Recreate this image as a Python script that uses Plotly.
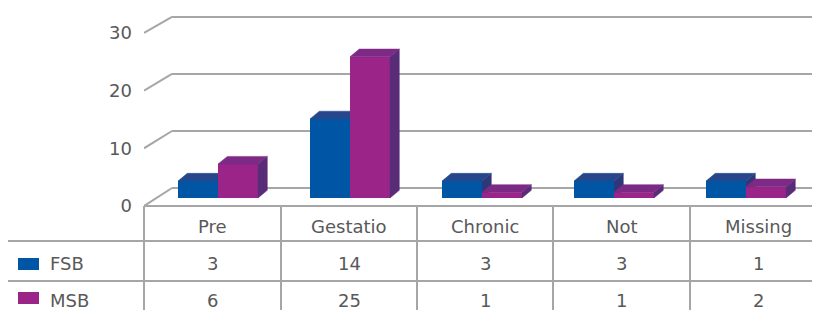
import plotly.graph_objects as go

# ---------------- data ----------------
categories = ["Pre", "Gestatio", "Chronic", "Not", "Missing"]
series_names = ["FSB", "MSB"]
fsb_bars = [3, 14, 3, 3, 3]      # bar heights as drawn
msb_bars = [6, 25, 1, 1, 2]
fsb_table = [3, 14, 3, 3, 1]     # values printed in the data table
msb_table = [6, 25, 1, 1, 2]
y_ticks = [0, 10, 20, 30]

# ---------------- style ----------------
FRONT = {"FSB": "#0055A4", "MSB": "#9A2488"}
TOP = {"FSB": "#27478D", "MSB": "#7C2A86"}
SIDE = {"FSB": "#2E3878", "MSB": "#592C78"}
GRID = "#A6A6A6"
TXT = "#595959"
FONT = "DejaVu Sans"

OFF = 8                      # page body margin
W, H = 820 - OFF, 310 - OFF
PLOT_L, PLOT_T, PLOT_R, PLOT_B = 144, 8, 820, 206   # plot area in screen px
L = PLOT_L - OFF
T = PLOT_T - OFF
R = (820 - PLOT_R)
B = 310 - PLOT_B
PW, PH = PLOT_R - PLOT_L, PLOT_B - PLOT_T

BAR_BASE_PX, BAR_SCALE = 198, 5.65

xs = list(range(len(categories)))
bar_w = 0.303          # width of one bar in category units
dx = 0.0705            # depth offset (x units)
dy = 7.7 / BAR_SCALE   # depth offset (y2 units)
x_range = [-0.5606, 4.5606]
y_range = [0, (PLOT_B - PLOT_T) / 5.77]
y2_range = [-(PLOT_B - BAR_BASE_PX) / BAR_SCALE, (BAR_BASE_PX - PLOT_T) / BAR_SCALE]


def px2x(px):
    return (px - PLOT_L) / PW


def py2y(py):
    return (PLOT_B - py) / PH


fig = go.Figure()


def faces(vals, offset):
    top_x, top_y, side_x, side_y = [], [], [], []
    for i, v in zip(xs, vals):
        xl = i + offset
        xr = xl + bar_w
        top_x += [xl, xr, xr + dx, xl + dx, xl, None]
        top_y += [v, v, v + dy, v + dy, v, None]
        side_x += [xr, xr + dx, xr + dx, xr, xr, None]
        side_y += [0, dy, v + dy, v, 0, None]
    return top_x, top_y, side_x, side_y


for name, vals, off, z in [("FSB", fsb_bars, -bar_w, 1), ("MSB", msb_bars, 0.0, 3)]:
    tx, ty, sx, sy = faces(vals, off)
    fig.add_trace(go.Scatter(x=sx, y=sy, fill="toself", fillcolor=SIDE[name], mode="lines",
                             line=dict(width=0.5, color=SIDE[name]), yaxis="y2",
                             hoverinfo="skip", showlegend=False, zorder=z))
    fig.add_trace(go.Scatter(x=tx, y=ty, fill="toself", fillcolor=TOP[name], mode="lines",
                             line=dict(width=0.5, color=TOP[name]), yaxis="y2",
                             hoverinfo="skip", showlegend=False, zorder=z))

for name, vals in [("FSB", fsb_bars), ("MSB", msb_bars)]:
    fig.add_trace(go.Bar(x=xs, y=vals, name=name, marker=dict(color=FRONT[name], line=dict(width=0)),
                         yaxis="y2", showlegend=False, zorder=2))

# back wall gridlines + depth diagonals
shapes = []
wall_dx = 0.212
for v in y_ticks:
    back = 3.12 + 0.988 * v
    shapes.append(dict(type="line", xref="x", yref="y", x0=x_range[0], y0=v,
                       x1=x_range[0] + wall_dx, y1=back, line=dict(color=GRID, width=2), layer="below"))
    shapes.append(dict(type="line", xref="x", yref="y", x0=x_range[0] + wall_dx, y0=back,
                       x1=x_range[1], y1=back, line=dict(color=GRID, width=2), layer="below"))

# data table grid
col_edges = [144, 281, 417, 553, 690, 826]
row_lines = [206, 241, 281]
tbl = dict(color=GRID, width=2)
shapes.append(dict(type="line", xref="paper", yref="paper", x0=px2x(144), x1=px2x(822),
                   y0=py2y(206), y1=py2y(206), line=tbl))
for ry in row_lines[1:]:
    shapes.append(dict(type="line", xref="paper", yref="paper", x0=px2x(7), x1=px2x(822),
                       y0=py2y(ry), y1=py2y(ry), line=tbl))
for cx in col_edges[:-1]:
    shapes.append(dict(type="line", xref="paper", yref="paper", x0=px2x(cx), x1=px2x(cx),
                       y0=py2y(206), y1=py2y(320), line=tbl))
shapes.append(dict(type="line", xref="paper", yref="paper", x0=px2x(7), x1=px2x(7),
                   y0=py2y(241), y1=py2y(320), line=tbl))

# legend keys in table
for name, (y0, y1) in zip(series_names, [(258, 270), (292, 304)]):
    shapes.append(dict(type="rect", xref="paper", yref="paper", x0=px2x(18), x1=px2x(39),
                       y0=py2y(y1), y1=py2y(y0), fillcolor=FRONT[name], line=dict(width=0)))

ann = []
tf = dict(family=FONT, size=18, color=TXT)
for j, cat in enumerate(categories):
    cxm = (col_edges[j] + col_edges[j + 1]) / 2
    ann.append(dict(text=cat, x=px2x(cxm), y=py2y(226), xref="paper", yref="paper",
                    showarrow=False, xanchor="center", yanchor="middle", font=tf))
    ann.append(dict(text=str(fsb_table[j]), x=px2x(cxm), y=py2y(263), xref="paper", yref="paper",
                    showarrow=False, xanchor="center", yanchor="middle", font=tf))
    ann.append(dict(text=str(msb_table[j]), x=px2x(cxm), y=py2y(300), xref="paper", yref="paper",
                    showarrow=False, xanchor="center", yanchor="middle", font=tf))
for name, yy in zip(series_names, [263, 300]):
    ann.append(dict(text=name, x=px2x(48), y=py2y(yy), xref="paper", yref="paper",
                    showarrow=False, xanchor="left", yanchor="middle", font=tf))

fig.update_layout(
    width=W, height=H,
    margin=dict(l=L, r=R, t=T, b=B, pad=0),
    paper_bgcolor="white", plot_bgcolor="rgba(0,0,0,0)",
    barmode="group", bargap=0.394, bargroupgap=0,
    xaxis=dict(range=x_range, visible=False, fixedrange=True),
    yaxis=dict(range=y_range, tickvals=y_ticks, ticktext=[str(v) for v in y_ticks],
               showgrid=False, zeroline=False, showline=False, ticks="",
               ticklabelstandoff=11, tickfont=dict(family=FONT, size=18, color=TXT), fixedrange=True),
    yaxis2=dict(range=y2_range, overlaying="y", visible=False, fixedrange=True),
    shapes=shapes, annotations=ann, showlegend=False,
)

fig.write_html("out.html")
